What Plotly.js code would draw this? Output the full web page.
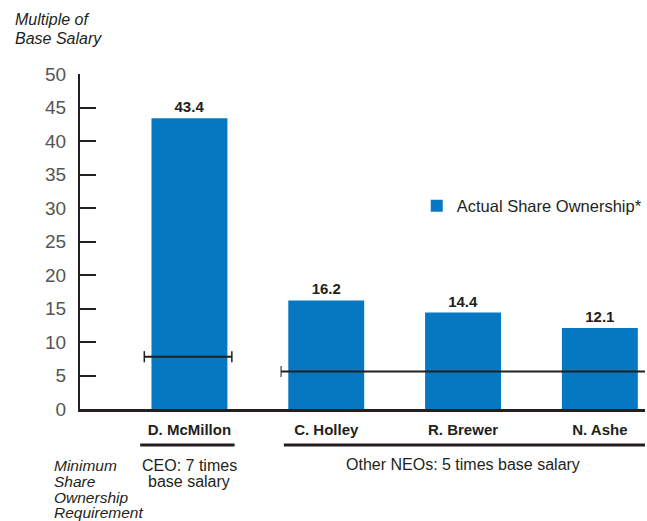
<!DOCTYPE html>
<html><head><meta charset="utf-8">
<script src="https://cdn.plot.ly/plotly-3.0.1.min.js"></script>
<style>html,body{margin:0;padding:0;background:#fff}</style>
</head><body>
<div id="chart" style="width:647px;height:521px"></div>
<script>
const names = ["D. McMillon", "C. Holley", "R. Brewer", "N. Ashe"];
const ownership = [43.4, 16.2, 14.4, 12.1];
const ceoRequirement = [7.8, 7.8];
const neoRequirement = [5.6, 5.6];
const yTicks = [0, 5, 10, 15, 20, 25, 30, 35, 40, 45, 50];

const idx = names.map((_, i) => i);
const FONT = "Liberation Sans, Arial, Helvetica, sans-serif";
const blue = "#0678c2";
const dark = "#231f20";
const PH = 335; // plot height in px, for paper coords
const py = px => (409 - px) / PH;

const traces = [
  {
    type: "bar", x: idx, y: ownership, width: 0.555,
    name: "Actual Share Ownership*",
    marker: {color: blue},
    text: ownership.map(v => "<b>" + v.toFixed(1) + "</b>"),
    textposition: "outside", cliponaxis: false,
    textfont: {family: FONT, size: 15, color: dark},
    hoverinfo: "skip"
  },
  {
    type: "scatter", mode: "lines+markers",
    x: [idx[0] - 0.33, idx[0] + 0.31], y: ceoRequirement,
    line: {color: dark, width: 2},
    marker: {symbol: "line-ns-open", size: 8, line: {color: dark, width: 1.5}, color: dark},
    showlegend: false, hoverinfo: "skip", cliponaxis: false
  },
  {
    type: "scatter", mode: "lines+markers",
    x: [idx[1] - 0.33, idx[3] + 0.34], y: neoRequirement,
    line: {color: dark, width: 2},
    marker: {symbol: "line-ns-open", size: [8, 0], line: {color: dark, width: 1.5}, color: dark},
    showlegend: false, hoverinfo: "skip", cliponaxis: false
  }
];

function txt(text, xref, x, y, xanchor, size, italic) {
  return {xref: xref, yref: "paper", x: x, y: py(y), xanchor: xanchor, yanchor: "middle",
          showarrow: false, text: italic ? "<i>" + text + "</i>" : text,
          font: {family: FONT, size: size, color: dark}};
}

const layout = {
  width: 647, height: 521,
  margin: {l: 80, r: 0, t: 74, b: 112},
  paper_bgcolor: "#fff", plot_bgcolor: "#fff",
  font: {family: FONT, color: dark},
  showlegend: true,
  legend: {x: 0.596, y: py(206), xanchor: "left", yanchor: "middle",
           font: {family: FONT, size: 16.5, color: dark}, bgcolor: "rgba(0,0,0,0)",
           itemwidth: 30},
  xaxis: {
    range: [-0.80, 3.33], tickvals: idx,
    ticktext: names.map(n => "<b>" + n + "</b>"),
    tickfont: {family: FONT, size: 15, color: dark},
    showgrid: false, zeroline: false, showline: true, linecolor: dark, linewidth: 2.5,
    ticks: "", ticklabelstandoff: 5, fixedrange: true
  },
  yaxis: {
    range: [0, 50], tickvals: yTicks,
    tickfont: {family: FONT, size: 19, color: "#555"},
    showgrid: false, zeroline: false, showline: true, linecolor: dark, linewidth: 2,
    ticks: "inside", ticklen: 16, tickwidth: 2, tickcolor: dark,
    ticklabelstandoff: 8, fixedrange: true
  },
  shapes: [
    {type: "line", xref: "x", yref: "paper", x0: -0.36, x1: 0.33, y0: py(445), y1: py(445),
     line: {color: dark, width: 3}},
    {type: "line", xref: "x", yref: "paper", x0: 0.69, x1: 3.33, y0: py(445), y1: py(445),
     line: {color: dark, width: 3}}
  ],
  annotations: [
    txt("Multiple of", "paper", -0.118, 20, "left", 16, true),
    txt("Base Salary", "paper", -0.118, 38, "left", 16, true),
    txt("CEO: 7 times", "x", 0, 465, "center", 16, false),
    txt("base salary", "x", 0, 481, "center", 16, false),
    txt("Other NEOs: 5 times base salary", "x", 2, 464, "center", 16, false),
    txt("Minimum", "paper", -0.05, 465, "left", 15.5, true),
    txt("Share", "paper", -0.05, 481, "left", 15.5, true),
    txt("Ownership", "paper", -0.05, 497, "left", 15.5, true),
    txt("Requirement", "paper", -0.05, 512, "left", 15.5, true)
  ]
};

Plotly.newPlot("chart", traces, layout, {displayModeBar: false, staticPlot: true});
</script>
</body></html>
